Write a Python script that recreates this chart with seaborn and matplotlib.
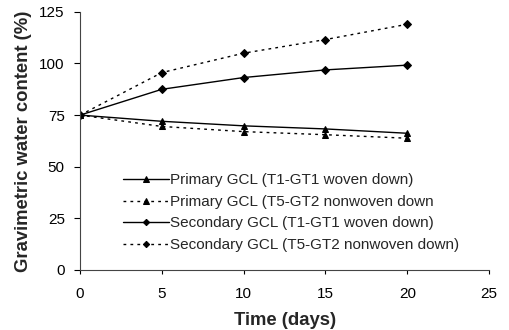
import matplotlib
matplotlib.use("Agg")
import matplotlib.pyplot as plt
import seaborn as sns
import pandas as pd

days = [0, 5, 10, 15, 20]
primary_woven = [75, 72, 69.8, 68.3, 66.2]
primary_nonwoven = [75, 69.5, 67, 65.5, 63.8]
secondary_woven = [75, 87.5, 93.2, 96.9, 99.2]
secondary_nonwoven = [75, 95.6, 105, 111.6, 119]
labels = ["Primary GCL (T1-GT1 woven down)",
          "Primary GCL (T5-GT2 nonwoven down",
          "Secondary GCL (T1-GT1 woven down)",
          "Secondary GCL (T5-GT2 nonwoven down)"]

sns.set_style("ticks")
plt.rcParams['font.family'] = ['Liberation Sans', 'DejaVu Sans']

fig = plt.figure(figsize=(5.1, 3.3), dpi=100)
ax = fig.add_axes([0.157, 0.182, 0.802, 0.782])

series = [primary_woven, primary_nonwoven, secondary_woven, secondary_nonwoven]
styles = [("-", "^", 5), ((0, (2, 3)), "^", 5), ("-", "D", 4), ((0, (2, 3)), "D", 4)]
for vals, lab, (ls, mk, ms) in zip(series, labels, styles):
    df = pd.DataFrame({"day": days, "val": vals})
    sns.lineplot(data=df, x="day", y="val", ax=ax, color="black", linestyle=ls,
                 marker=mk, markersize=ms, markeredgecolor="black", linewidth=1.0,
                 label=lab)

ax.set_xlim(0, 25)
ax.set_ylim(0, 125)
ax.set_xticks([0, 5, 10, 15, 20, 25])
ax.set_yticks([0, 25, 50, 75, 100, 125])
ax.tick_params(labelsize=11, direction="out", length=4, width=0.8, colors="black")
ax.tick_params(axis="x", pad=9, length=3)
ax.tick_params(axis="y", pad=7)
for s in ["top", "right"]:
    ax.spines[s].set_visible(False)
for s in ["left", "bottom"]:
    ax.spines[s].set_color("#444444")
    ax.spines[s].set_linewidth(0.8)
ax.set_xlabel("Time (days)", fontsize=13.3, fontweight="bold", labelpad=8)
ax.set_ylabel("Gravimetric water content (%)", fontsize=13.3, fontweight="bold", labelpad=5)
leg = ax.legend(loc="lower left", bbox_to_anchor=(0.09, 0.046), frameon=False,
                fontsize=11, handlelength=3.0, labelspacing=0.49, handletextpad=0.1,
                borderaxespad=0, markerscale=0.8)
fig.savefig("out.png", dpi=100)
